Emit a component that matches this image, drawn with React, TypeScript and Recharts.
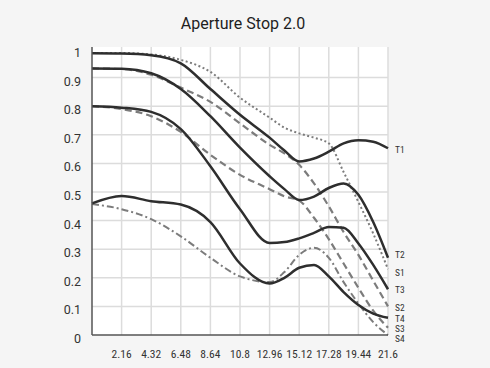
import React from "react";
import { LineChart, Line, XAxis, YAxis, CartesianGrid } from "recharts";

// image height (mm) and MTF per curve
const heights = [0, 2.16, 4.32, 6.48, 8.64, 10.8, 12.96, 14.04, 15.12, 16.2, 17.28, 18.36, 19.44, 20.52, 21.6];
const t1 = [0.985, 0.984, 0.978, 0.95, 0.86, 0.77, 0.69, 0.645, 0.607, 0.617, 0.641, 0.67, 0.681, 0.676, 0.653];
const s1 = [0.986, 0.986, 0.981, 0.962, 0.92, 0.83, 0.76, 0.725, 0.705, 0.69, 0.67, 0.57, 0.465, 0.355, 0.23];
const t2 = [0.932, 0.931, 0.915, 0.86, 0.765, 0.655, 0.555, 0.51, 0.472, 0.484, 0.514, 0.53, 0.49, 0.395, 0.27];
const s2 = [0.932, 0.93, 0.91, 0.865, 0.815, 0.74, 0.665, 0.635, 0.595, 0.53, 0.45, 0.36, 0.28, 0.19, 0.1];
const t3 = [0.8, 0.795, 0.78, 0.72, 0.59, 0.44, 0.322, 0.325, 0.338, 0.357, 0.378, 0.375, 0.32, 0.245, 0.16];
const s3 = [0.8, 0.79, 0.765, 0.71, 0.63, 0.56, 0.51, 0.485, 0.47, 0.41, 0.335, 0.25, 0.165, 0.085, 0.025];
const t4 = [0.46, 0.486, 0.468, 0.456, 0.395, 0.25, 0.18, 0.2, 0.235, 0.245, 0.205, 0.15, 0.105, 0.075, 0.06];
const s4 = [0.458, 0.44, 0.405, 0.345, 0.27, 0.205, 0.185, 0.22, 0.28, 0.305, 0.27, 0.185, 0.11, 0.045, 0];

const xTicks = [2.16, 4.32, 6.48, 8.64, 10.8, 12.96, 15.12, 17.28, 19.44, 21.6];
const yTicks = [0, 0.1, 0.2, 0.3, 0.4, 0.5, 0.6, 0.7, 0.8, 0.9, 1];
const X_MAX = 21.6;
const Y_MAX = 1.007;

const data = heights.map((h, i) => ({
  h,
  T1: t1[i], S1: s1[i], T2: t2[i], S2: s2[i],
  T3: t3[i], S3: s3[i], T4: t4[i], S4: s4[i],
}));

const SOLID = "#2e2e2e";
const GREY = "#7c7c7c";

// drawn in this order: sagittal (grey) first, tangential on top
const series = [
  { key: "S1", color: GREY, width: 2, dash: "2 2.5", dy: 3 },
  { key: "S2", color: GREY, width: 2.2, dash: "7 4", dy: 1.5 },
  { key: "S3", color: GREY, width: 2.2, dash: "7 4", dy: 1 },
  { key: "S4", color: GREY, width: 2, dash: "7 3 2 3", dy: 3.5 },
  { key: "T1", color: SOLID, width: 2.5, dash: undefined, dy: 1.5 },
  { key: "T2", color: SOLID, width: 2.5, dash: undefined, dy: -3 },
  { key: "T3", color: SOLID, width: 2.5, dash: undefined, dy: 0 },
  { key: "T4", color: SOLID, width: 2.5, dash: undefined, dy: 0.5 },
];

const narrow = "'Liberation Sans Narrow', 'Roboto Condensed', 'DejaVu Sans Condensed', Roboto, sans-serif";

function YTick({ x, y, payload }: any) {
  return (
    <text x={x} y={y + 8} textAnchor="end" fill="#333" fontSize={12.5} fontFamily="Roboto, sans-serif">
      {payload.value}
    </text>
  );
}

function XTick({ x, y, payload }: any) {
  return (
    <text x={x} y={y + 21} textAnchor="middle" fill="#333" fontSize={11.5} fontFamily={narrow}>
      {payload.value}
    </text>
  );
}

function endLabel(name: string, dy: number) {
  return (props: any) => {
    if (props.index !== heights.length - 1) return null;
    return (
      <text key={name} x={props.x + 7} y={props.y + dy + 3.5} fill="#333" fontSize={9.5} fontFamily={narrow}>
        {name}
      </text>
    );
  };
}

// grid lines at the tick values, skipping the top edge (value 1)
const gridRows = ({ offset }: any) =>
  yTicks.slice(1, -1).map((v) => offset.top + offset.height * (1 - v / Y_MAX));
const gridCols = ({ offset }: any) => xTicks.map((v) => offset.left + (offset.width * v) / X_MAX);

export default function App() {
  return (
    <div
      style={{
        position: "absolute",
        left: 0,
        top: 0,
        width: 490,
        height: 368,
        background: "#f5f5f5",
        fontFamily: "Roboto, sans-serif",
      }}
    >
      <div
        style={{
          position: "absolute",
          top: 14,
          left: 0,
          width: 486,
          textAlign: "center",
          fontSize: 16,
          color: "#1e1e1e",
        }}
      >
        Aperture Stop 2.0
      </div>
      <LineChart width={490} height={368} data={data} margin={{ top: 47, right: 102, bottom: 0, left: 0 }}>
        <CartesianGrid
          fill="#ffffff"
          stroke="#dcdcdc"
          strokeWidth={1.5}
          horizontalCoordinatesGenerator={gridRows}
          verticalCoordinatesGenerator={gridCols}
        />
        <XAxis
          dataKey="h"
          type="number"
          domain={[0, X_MAX]}
          ticks={xTicks}
          interval={0}
          height={33}
          tickSize={0}
          tickLine={false}
          axisLine={{ stroke: "#555", strokeWidth: 1.5 }}
          tick={<XTick />}
        />
        <YAxis
          type="number"
          domain={[0, Y_MAX]}
          ticks={yTicks}
          interval={0}
          width={92}
          tickSize={0}
          tickMargin={11}
          tickLine={false}
          axisLine={{ stroke: "#555", strokeWidth: 1.5 }}
          tick={<YTick />}
        />
        {series.map((s) => (
          <Line
            key={s.key}
            dataKey={s.key}
            type="monotone"
            stroke={s.color}
            strokeWidth={s.width}
            strokeDasharray={s.dash}
            dot={false}
            isAnimationActive={false}
            label={endLabel(s.key, s.dy)}
          />
        ))}
      </LineChart>
    </div>
  );
}
